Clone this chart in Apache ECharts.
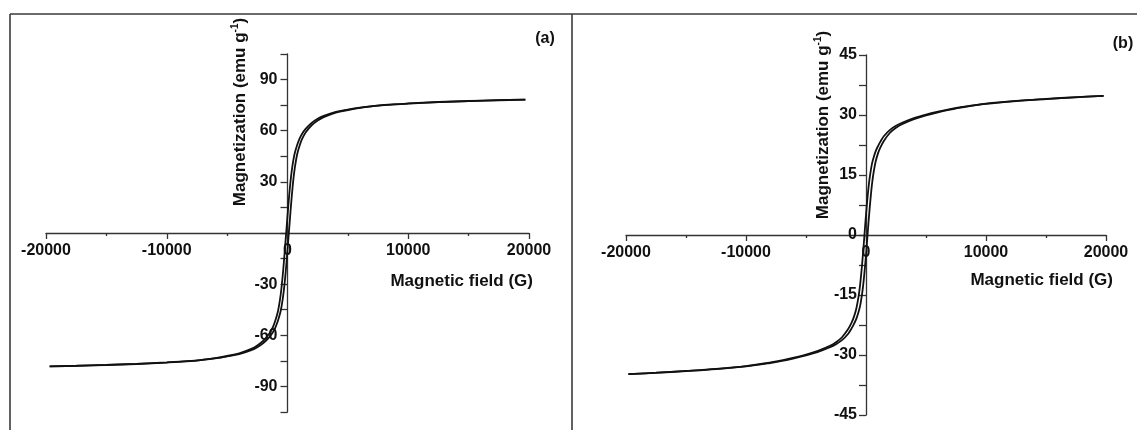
<!DOCTYPE html>
<html>
<head>
<meta charset="utf-8">
<script src="https://cdn.jsdelivr.net/npm/echarts@6/dist/echarts.min.js"></script>
<style>
  html, body { margin: 0; padding: 0; background: #fff; }
  #chart { width: 1137px; height: 430px; }
</style>
</head>
<body>
<div id="chart"></div>
<script>
// magnetic field grid (G), shared by both branches of a panel
const fieldA = [-19700, -17500, -15000, -12500, -10000, -8000, -7000, -6000, -5000, -4000, -3000, -2500, -2000, -1500, -1200, -1000,
  -800, -600, -500, -400, -300, -200, -100, 0, 100, 200, 300, 400, 500, 600, 800,
  1000, 1200, 1500, 2000, 2500, 3000, 4000, 5000, 6000, 7000, 8000, 10000, 12500, 15000, 17500, 19700]
// (a) descending branch (coming back from +20000 G)
const downA = [-78.2, -77.88, -77.38, -76.77, -75.92, -75.05, -74.32, -73.4, -72.15, -70.6, -68.0, -66.0, -63.2, -59.0, -55.0, -51.2,
  -46.2, -37.95, -32.3, -25.2, -17.1, -8.1, 0.9, 9.9, 18.8, 26.7, 33.55, 38.95, 43.35, 46.8, 51.6,
  55.3, 58.1, 61.1, 64.6, 67.0, 68.7, 71.05, 72.43, 73.6, 74.48, 75.15, 75.98, 76.83, 77.42, 77.92, 78.2]
// (a) ascending branch
const upA = [-78.2, -77.92, -77.42, -76.83, -75.98, -75.15, -74.48, -73.6, -72.43, -71.05, -68.7, -67.0, -64.6, -61.1, -58.1, -55.3,
  -51.6, -46.8, -43.35, -38.95, -33.55, -26.7, -18.8, -9.9, -0.9, 8.1, 17.1, 25.2, 32.3, 37.95, 46.2,
  51.2, 55.0, 59.0, 63.2, 66.0, 68.0, 70.6, 72.15, 73.4, 74.32, 75.05, 75.92, 76.77, 77.38, 77.88, 78.2]

const fieldB = [-19800, -17500, -15000, -12500, -10000, -8000, -7000, -6000, -5000, -4000, -3000, -2500, -2000, -1500, -1200, -1000,
  -800, -600, -500, -400, -300, -200, -100, 0, 100, 200, 300, 400, 500, 600, 800,
  1000, 1200, 1500, 2000, 2500, 3000, 4000, 5000, 6000, 7000, 8000, 10000, 12500, 15000, 17500, 19800]
const downB = [-34.8, -34.43, -33.98, -33.47, -32.77, -31.9, -31.33, -30.67, -29.9, -28.94, -27.7, -26.81, -25.56, -23.57, -21.9, -20.4,
  -18.3, -15.0, -12.7, -9.8, -6.45, -2.8, 1.2, 5.05, 8.5, 11.6, 14.13, 16.17, 17.85, 19.0, 20.9,
  22.23, 23.35, 24.74, 26.29, 27.3, 28.06, 29.22, 30.1, 30.83, 31.47, 32.0, 32.84, 33.52, 34.02, 34.47, 34.8]
const upB = [-34.8, -34.47, -34.02, -33.52, -32.84, -32.0, -31.47, -30.83, -30.1, -29.22, -28.06, -27.3, -26.29, -24.74, -23.35, -22.23,
  -20.9, -19.0, -17.85, -16.17, -14.13, -11.6, -8.5, -5.05, -1.2, 2.8, 6.45, 9.8, 12.7, 15.0, 18.3,
  20.4, 21.9, 23.57, 25.56, 26.81, 27.7, 28.94, 29.9, 30.67, 31.33, 31.9, 32.77, 33.47, 33.98, 34.43, 34.8]

const yLabelsA = [-90, -60, -30, 30, 60, 90]
const yLabelsB = [-45, -30, -15, 0, 15, 30, 45]

const FONT = 'Liberation Sans, Arial, sans-serif'
const axisColor = '#333'
const lineStyle = { color: axisColor, width: 1.3 }

function pairs(xs, ys) {
  return xs.map((x, i) => [x, ys[i]])
}

// axes cross at 0, so push them into the grid with a negative offset
function xAxisFor(idx, offset) {
  return {
    type: 'value', gridIndex: idx, position: 'bottom', offset: offset,
    min: -20000, max: 20000, interval: 10000,
    axisLine: { onZero: false, lineStyle: lineStyle },
    axisTick: { length: 6, lineStyle: lineStyle },
    minorTick: { show: true, splitNumber: 2, length: 3, lineStyle: lineStyle },
    splitLine: { show: false },
    axisLabel: {
      margin: 10, fontSize: 16, fontWeight: 'bold', color: '#111', fontFamily: FONT,
      formatter: v => String(v)
    }
  }
}

function yAxisFor(idx, offset, lim, step, labels, margin) {
  return {
    type: 'value', gridIndex: idx, position: 'left', offset: offset,
    min: -lim, max: lim, interval: step,
    axisLine: { show: true, onZero: false, lineStyle: lineStyle },
    axisTick: { show: true, length: 7, lineStyle: lineStyle },
    splitLine: { show: false },
    axisLabel: {
      margin: margin, fontSize: 16, fontWeight: 'bold', color: '#111', fontFamily: FONT,
      formatter: v => labels.includes(Math.round(v * 10) / 10) ? String(v) : ''
    }
  }
}

function branch(xi, xs, ys) {
  return {
    type: 'line', xAxisIndex: xi, yAxisIndex: xi,
    data: pairs(xs, ys),
    symbol: 'none', smooth: 0.35,
    lineStyle: { color: '#111', width: 1.8 }
  }
}

function yName(x, y) {
  return {
    type: 'text', x: x, y: y, rotation: Math.PI / 2,
    style: {
      text: '{n|Magnetization (emu g}{s|-1}{n|)}',
      align: 'center', verticalAlign: 'middle', fill: '#111',
      rich: {
        n: { fontSize: 17, fontWeight: 'bold', fontFamily: FONT, fill: '#111', lineHeight: 20 },
        s: { fontSize: 10, fontWeight: 'bold', fontFamily: FONT, fill: '#111', lineHeight: 20, verticalAlign: 'top', padding: [0, 0, 8, 0] }
      }
    }
  }
}

function text(x, y, str, size, align) {
  return {
    type: 'text', x: x, y: y,
    style: { text: str, fontSize: size, fontWeight: 'bold', fontFamily: FONT, fill: '#111', align: align, verticalAlign: 'middle' }
  }
}

function border(x1, y1, x2, y2) {
  return { type: 'line', shape: { x1: x1, y1: y1, x2: x2, y2: y2 }, style: { stroke: '#3a3a3a', lineWidth: 1.6 } }
}

const option = {
  animation: false,
  grid: [
    { left: 46, top: 54, width: 483, height: 358 },
    { left: 626, top: 55, width: 480, height: 360 }
  ],
  xAxis: [xAxisFor(0, -179), xAxisFor(1, -180)],
  yAxis: [
    yAxisFor(0, -241.5, 105, 15, yLabelsA, 10),
    yAxisFor(1, -240, 45, 7.5, yLabelsB, 9)
  ],
  series: [
    branch(0, fieldA, downA),
    branch(0, fieldA, upA),
    branch(1, fieldB, downB),
    branch(1, fieldB, upB)
  ],
  graphic: [
    border(10, 14, 1137, 14),
    border(10, 14, 10, 430),
    border(572, 14, 572, 430),
    text(533, 281, 'Magnetic field (G)', 17, 'right'),
    text(1113, 280, 'Magnetic field (G)', 17, 'right'),
    yName(240, 112),
    yName(823, 125),
    text(545, 39, '(a)', 16, 'center'),
    text(1123, 44, '(b)', 16, 'center')
  ]
}

const chart = echarts.init(document.getElementById('chart'))
chart.setOption(option)
</script>
</body>
</html>
